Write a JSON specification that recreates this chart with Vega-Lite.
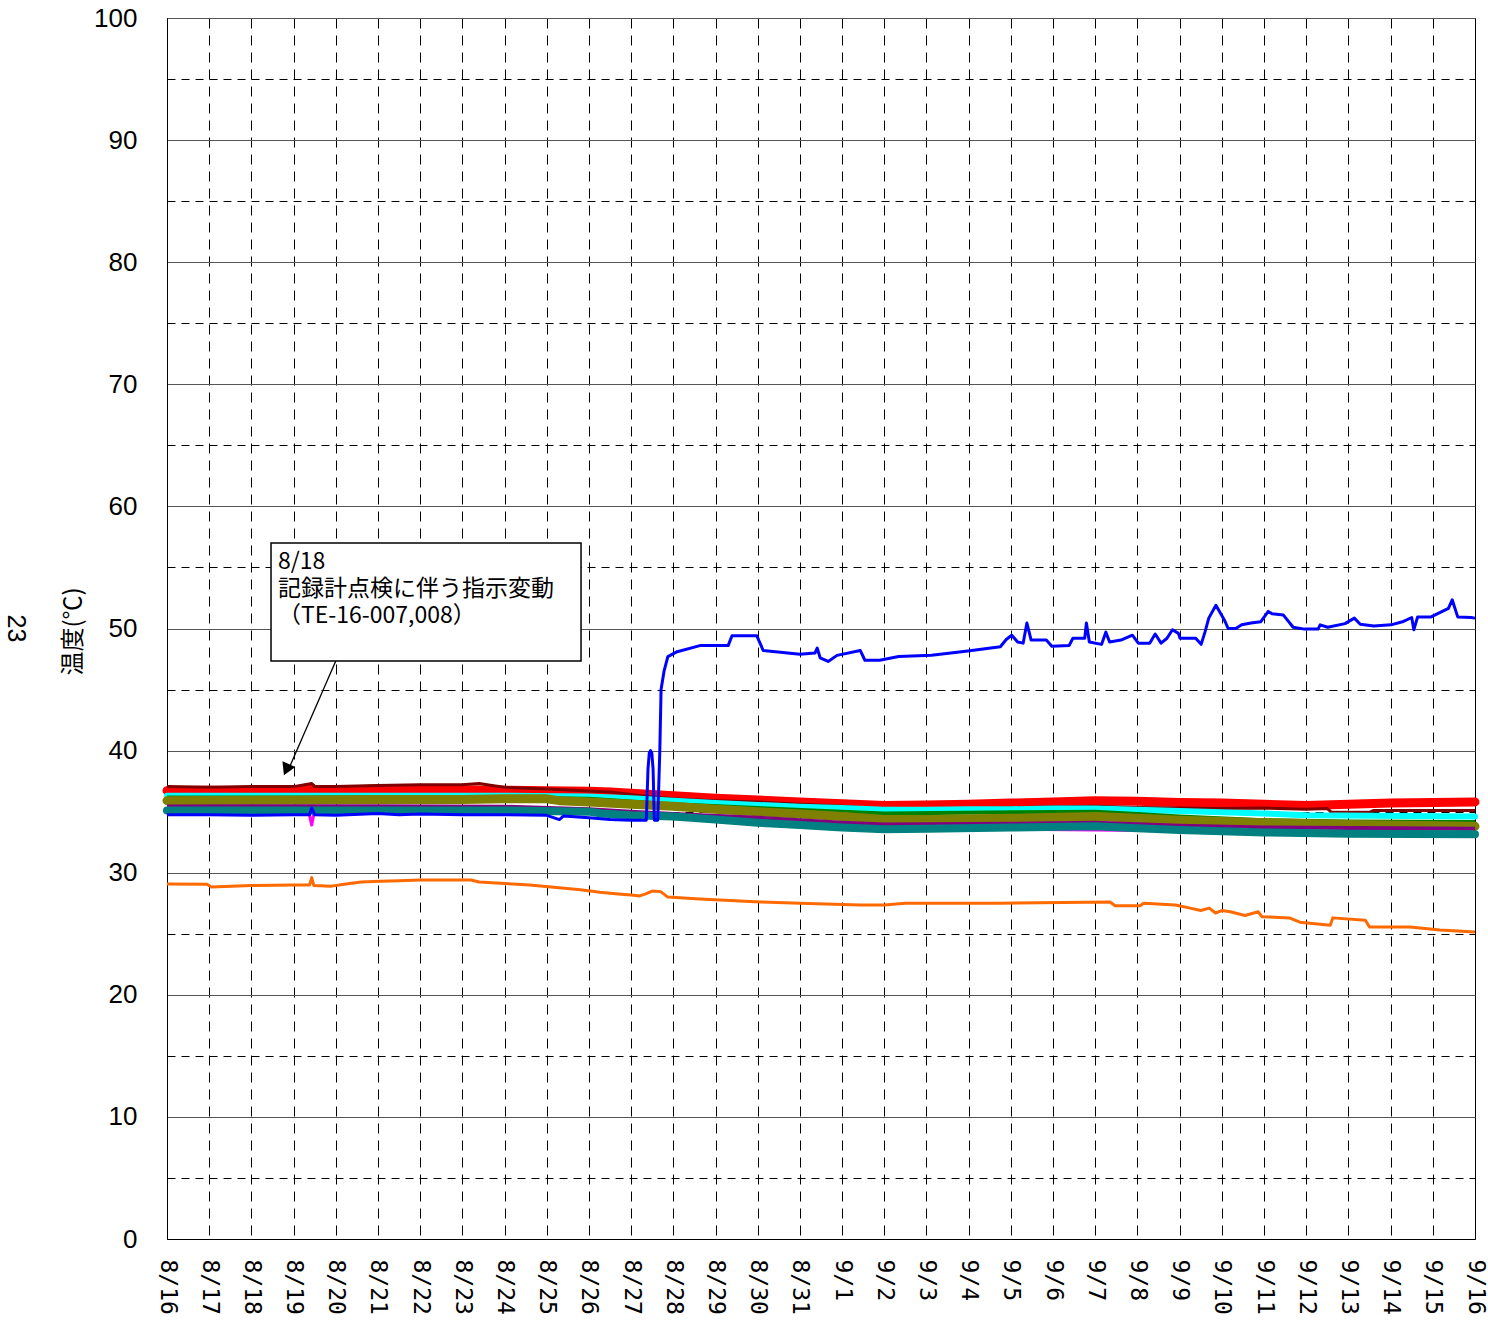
{
"$schema":"https://vega.github.io/schema/vega-lite/v6.json",
"width":1308,"height":1221,
"autosize":"none",
"padding":{"left":167,"top":18,"right":13,"bottom":85},
"background":"white",
"title":{"text":"23","orient":"left","angle":90,"fontSize":25,"font":"Liberation Sans","fontWeight":"normal","color":"#000","anchor":"middle","offset":8},
"config":{"view":{"stroke":"#000","strokeWidth":1}},
"data":{"values":[
{"s":"s1","t":"2011-08-16T00:00","v":36.72},{"s":"s1","t":"2011-08-17T00:00","v":36.75},{"s":"s1","t":"2011-08-18T00:00","v":36.72},{"s":"s1","t":"2011-08-19T00:00","v":36.75},{"s":"s1","t":"2011-08-19T10:19","v":36.95},{"s":"s1","t":"2011-08-19T12:00","v":36.75},{"s":"s1","t":"2011-08-20T00:00","v":36.75},{"s":"s1","t":"2011-08-21T00:00","v":36.85},{"s":"s1","t":"2011-08-22T00:00","v":36.85},{"s":"s1","t":"2011-08-23T00:00","v":36.8},{"s":"s1","t":"2011-08-24T00:00","v":36.75},{"s":"s1","t":"2011-08-25T00:00","v":36.72},{"s":"s1","t":"2011-08-26T00:00","v":36.68},{"s":"s1","t":"2011-08-26T12:00","v":36.6},{"s":"s1","t":"2011-08-27T00:00","v":36.5},{"s":"s1","t":"2011-08-27T12:00","v":36.4},{"s":"s1","t":"2011-08-28T00:00","v":36.3},{"s":"s1","t":"2011-08-29T00:00","v":36.1},{"s":"s1","t":"2011-08-30T00:00","v":35.95},{"s":"s1","t":"2011-08-31T00:00","v":35.8},{"s":"s1","t":"2011-09-01T00:00","v":35.65},{"s":"s1","t":"2011-09-02T00:00","v":35.5},{"s":"s1","t":"2011-09-03T00:00","v":35.55},{"s":"s1","t":"2011-09-04T00:00","v":35.6},{"s":"s1","t":"2011-09-05T00:00","v":35.7},{"s":"s1","t":"2011-09-06T00:00","v":35.8},{"s":"s1","t":"2011-09-07T00:00","v":35.9},{"s":"s1","t":"2011-09-08T00:00","v":35.85},{"s":"s1","t":"2011-09-09T00:00","v":35.75},{"s":"s1","t":"2011-09-10T00:00","v":35.7},{"s":"s1","t":"2011-09-11T00:00","v":35.6},{"s":"s1","t":"2011-09-12T00:00","v":35.5},{"s":"s1","t":"2011-09-13T00:00","v":35.6},{"s":"s1","t":"2011-09-14T00:00","v":35.7},{"s":"s1","t":"2011-09-15T00:00","v":35.75},{"s":"s1","t":"2011-09-16T00:00","v":35.8},

{"s":"s2","t":"2011-08-16T00:00","v":37.05},{"s":"s2","t":"2011-08-17T00:00","v":37.0},{"s":"s2","t":"2011-08-18T00:00","v":37.05},{"s":"s2","t":"2011-08-19T00:00","v":37.05},{"s":"s2","t":"2011-08-19T10:19","v":37.3},{"s":"s2","t":"2011-08-19T12:00","v":37.05},{"s":"s2","t":"2011-08-20T00:00","v":37.05},{"s":"s2","t":"2011-08-21T00:00","v":37.15},{"s":"s2","t":"2011-08-22T00:00","v":37.2},{"s":"s2","t":"2011-08-23T00:00","v":37.2},{"s":"s2","t":"2011-08-23T09:36","v":37.3},{"s":"s2","t":"2011-08-23T16:48","v":37.15},{"s":"s2","t":"2011-08-24T00:00","v":37.0},{"s":"s2","t":"2011-08-25T00:00","v":36.85},{"s":"s2","t":"2011-08-26T00:00","v":36.7},{"s":"s2","t":"2011-08-26T12:00","v":36.6},{"s":"s2","t":"2011-08-27T00:00","v":36.4},{"s":"s2","t":"2011-08-27T12:00","v":36.2},{"s":"s2","t":"2011-08-28T00:00","v":36.05},{"s":"s2","t":"2011-08-29T00:00","v":35.9},{"s":"s2","t":"2011-08-30T00:00","v":35.8},{"s":"s2","t":"2011-08-31T00:00","v":35.6},{"s":"s2","t":"2011-09-01T00:00","v":35.45},{"s":"s2","t":"2011-09-02T00:00","v":35.2},{"s":"s2","t":"2011-09-03T00:00","v":35.2},{"s":"s2","t":"2011-09-04T00:00","v":35.25},{"s":"s2","t":"2011-09-05T00:00","v":35.3},{"s":"s2","t":"2011-09-06T00:00","v":35.4},{"s":"s2","t":"2011-09-07T00:00","v":35.45},{"s":"s2","t":"2011-09-08T00:00","v":35.35},{"s":"s2","t":"2011-09-09T00:00","v":35.3},{"s":"s2","t":"2011-09-10T00:00","v":35.25},{"s":"s2","t":"2011-09-11T00:00","v":35.3},{"s":"s2","t":"2011-09-12T00:00","v":35.2},{"s":"s2","t":"2011-09-12T12:00","v":35.25},{"s":"s2","t":"2011-09-12T14:24","v":34.95},{"s":"s2","t":"2011-09-13T12:00","v":34.95},{"s":"s2","t":"2011-09-13T14:24","v":35.1},{"s":"s2","t":"2011-09-16T00:00","v":35.1},

{"s":"s3","t":"2011-08-16T00:00","v":36.3},{"s":"s3","t":"2011-08-21T00:00","v":36.3},{"s":"s3","t":"2011-08-24T00:00","v":36.3},{"s":"s3","t":"2011-08-26T00:00","v":36.25},{"s":"s3","t":"2011-08-27T00:00","v":36.1},{"s":"s3","t":"2011-08-28T00:00","v":35.9},{"s":"s3","t":"2011-08-29T00:00","v":35.7},{"s":"s3","t":"2011-08-30T00:00","v":35.55},{"s":"s3","t":"2011-08-31T00:00","v":35.4},{"s":"s3","t":"2011-09-01T00:00","v":35.3},{"s":"s3","t":"2011-09-02T00:00","v":35.15},{"s":"s3","t":"2011-09-03T00:00","v":35.15},{"s":"s3","t":"2011-09-04T00:00","v":35.2},{"s":"s3","t":"2011-09-05T00:00","v":35.2},{"s":"s3","t":"2011-09-06T00:00","v":35.25},{"s":"s3","t":"2011-09-07T00:00","v":35.25},{"s":"s3","t":"2011-09-08T00:00","v":35.15},{"s":"s3","t":"2011-09-09T00:00","v":35.05},{"s":"s3","t":"2011-09-11T00:00","v":34.85},{"s":"s3","t":"2011-09-12T00:00","v":34.7},{"s":"s3","t":"2011-09-16T00:00","v":34.6},

{"s":"s4","t":"2011-08-16T00:00","v":36.15},{"s":"s4","t":"2011-08-24T00:00","v":36.15},{"s":"s4","t":"2011-08-26T00:00","v":36.05},{"s":"s4","t":"2011-08-28T00:00","v":35.6},{"s":"s4","t":"2011-08-30T00:00","v":35.3},{"s":"s4","t":"2011-09-01T00:00","v":35.0},{"s":"s4","t":"2011-09-02T00:00","v":34.85},{"s":"s4","t":"2011-09-05T00:00","v":34.95},{"s":"s4","t":"2011-09-07T00:00","v":35.0},{"s":"s4","t":"2011-09-08T00:00","v":34.8},{"s":"s4","t":"2011-09-09T00:00","v":34.6},{"s":"s4","t":"2011-09-11T00:00","v":34.3},{"s":"s4","t":"2011-09-13T00:00","v":34.2},{"s":"s4","t":"2011-09-16T00:00","v":34.15},

{"s":"s5","t":"2011-08-16T00:00","v":35.9},{"s":"s5","t":"2011-08-19T00:00","v":35.95},{"s":"s5","t":"2011-08-21T00:00","v":36.0},{"s":"s5","t":"2011-08-23T00:00","v":36.0},{"s":"s5","t":"2011-08-24T00:00","v":36.05},{"s":"s5","t":"2011-08-25T00:00","v":36.05},{"s":"s5","t":"2011-08-25T07:12","v":35.9},{"s":"s5","t":"2011-08-26T00:00","v":35.8},{"s":"s5","t":"2011-08-27T00:00","v":35.6},{"s":"s5","t":"2011-08-28T00:00","v":35.45},{"s":"s5","t":"2011-08-29T00:00","v":35.2},{"s":"s5","t":"2011-08-30T00:00","v":35.0},{"s":"s5","t":"2011-08-31T00:00","v":34.8},{"s":"s5","t":"2011-09-01T00:00","v":34.6},{"s":"s5","t":"2011-09-02T00:00","v":34.35},{"s":"s5","t":"2011-09-03T00:00","v":34.35},{"s":"s5","t":"2011-09-05T00:00","v":34.45},{"s":"s5","t":"2011-09-07T00:00","v":34.6},{"s":"s5","t":"2011-09-08T00:00","v":34.45},{"s":"s5","t":"2011-09-09T00:00","v":34.3},{"s":"s5","t":"2011-09-11T00:00","v":34.1},{"s":"s5","t":"2011-09-13T00:00","v":33.95},{"s":"s5","t":"2011-09-16T00:00","v":33.8},

{"s":"s6","t":"2011-08-16T00:00","v":35.42},{"s":"s6","t":"2011-08-21T00:00","v":35.45},{"s":"s6","t":"2011-08-24T00:00","v":35.4},{"s":"s6","t":"2011-08-26T00:00","v":35.2},{"s":"s6","t":"2011-08-27T00:00","v":35.0},{"s":"s6","t":"2011-08-28T00:00","v":34.8},{"s":"s6","t":"2011-08-30T00:00","v":34.5},{"s":"s6","t":"2011-09-01T00:00","v":34.1},{"s":"s6","t":"2011-09-02T00:00","v":33.95},{"s":"s6","t":"2011-09-05T00:00","v":34.0},{"s":"s6","t":"2011-09-07T00:00","v":34.1},{"s":"s6","t":"2011-09-09T00:00","v":33.85},{"s":"s6","t":"2011-09-11T00:00","v":33.7},{"s":"s6","t":"2011-09-16T00:00","v":33.6},

{"s":"s8","t":"2011-08-16T00:00","v":35.15},{"s":"s8","t":"2011-08-19T08:24","v":35.15},{"s":"s8","t":"2011-08-19T10:19","v":33.9},{"s":"s8","t":"2011-08-19T12:00","v":35.15},{"s":"s8","t":"2011-08-24T00:00","v":35.15},{"s":"s8","t":"2011-08-27T00:00","v":34.7},{"s":"s8","t":"2011-09-01T00:00","v":33.7},{"s":"s8","t":"2011-09-16T00:00","v":33.2},

{"s":"s7","t":"2011-08-16T00:00","v":35.1},{"s":"s7","t":"2011-08-19T00:00","v":35.1},{"s":"s7","t":"2011-08-21T00:00","v":35.1},{"s":"s7","t":"2011-08-24T00:00","v":35.1},{"s":"s7","t":"2011-08-26T00:00","v":35.0},{"s":"s7","t":"2011-08-26T07:12","v":34.85},{"s":"s7","t":"2011-08-27T00:00","v":34.7},{"s":"s7","t":"2011-08-28T00:00","v":34.6},{"s":"s7","t":"2011-08-29T00:00","v":34.35},{"s":"s7","t":"2011-08-30T00:00","v":34.1},{"s":"s7","t":"2011-08-31T00:00","v":33.9},{"s":"s7","t":"2011-09-01T00:00","v":33.7},{"s":"s7","t":"2011-09-02T00:00","v":33.55},{"s":"s7","t":"2011-09-03T00:00","v":33.6},{"s":"s7","t":"2011-09-05T00:00","v":33.7},{"s":"s7","t":"2011-09-07T00:00","v":33.8},{"s":"s7","t":"2011-09-08T00:00","v":33.65},{"s":"s7","t":"2011-09-09T00:00","v":33.5},{"s":"s7","t":"2011-09-11T00:00","v":33.3},{"s":"s7","t":"2011-09-13T00:00","v":33.2},{"s":"s7","t":"2011-09-16T00:00","v":33.15},

{"s":"s9","t":"2011-08-16T00:00","v":34.75},{"s":"s9","t":"2011-08-17T00:00","v":34.75},{"s":"s9","t":"2011-08-18T00:00","v":34.7},{"s":"s9","t":"2011-08-19T00:00","v":34.75},{"s":"s9","t":"2011-08-19T09:07","v":34.75},{"s":"s9","t":"2011-08-19T10:19","v":35.3},{"s":"s9","t":"2011-08-19T12:00","v":34.75},{"s":"s9","t":"2011-08-20T00:00","v":34.7},{"s":"s9","t":"2011-08-21T00:00","v":34.85},{"s":"s9","t":"2011-08-21T12:00","v":34.75},{"s":"s9","t":"2011-08-22T00:00","v":34.8},{"s":"s9","t":"2011-08-23T00:00","v":34.75},{"s":"s9","t":"2011-08-24T00:00","v":34.75},{"s":"s9","t":"2011-08-25T00:00","v":34.7},{"s":"s9","t":"2011-08-25T07:12","v":34.35},{"s":"s9","t":"2011-08-25T09:36","v":34.65},{"s":"s9","t":"2011-08-26T00:00","v":34.5},{"s":"s9","t":"2011-08-26T12:00","v":34.35},{"s":"s9","t":"2011-08-27T00:00","v":34.3},{"s":"s9","t":"2011-08-27T08:38","v":34.3},{"s":"s9","t":"2011-08-27T09:36","v":38.5},{"s":"s9","t":"2011-08-27T10:19","v":39.8},{"s":"s9","t":"2011-08-27T11:02","v":40.0},{"s":"s9","t":"2011-08-27T11:46","v":39.8},{"s":"s9","t":"2011-08-27T12:29","v":38.5},{"s":"s9","t":"2011-08-27T13:12","v":34.3},{"s":"s9","t":"2011-08-27T15:07","v":34.3},{"s":"s9","t":"2011-08-27T16:19","v":40.0},{"s":"s9","t":"2011-08-27T17:02","v":45.0},{"s":"s9","t":"2011-08-27T18:43","v":46.5},{"s":"s9","t":"2011-08-27T20:53","v":47.7},{"s":"s9","t":"2011-08-28T02:10","v":48.1},{"s":"s9","t":"2011-08-28T15:07","v":48.6},{"s":"s9","t":"2011-08-29T07:12","v":48.6},{"s":"s9","t":"2011-08-29T09:22","v":49.4},{"s":"s9","t":"2011-08-29T23:31","v":49.4},{"s":"s9","t":"2011-08-30T03:07","v":48.2},{"s":"s9","t":"2011-08-31T00:00","v":47.9},{"s":"s9","t":"2011-08-31T08:38","v":48.0},{"s":"s9","t":"2011-08-31T09:50","v":48.4},{"s":"s9","t":"2011-08-31T11:31","v":47.6},{"s":"s9","t":"2011-08-31T16:05","v":47.3},{"s":"s9","t":"2011-08-31T21:07","v":47.8},{"s":"s9","t":"2011-09-01T10:19","v":48.2},{"s":"s9","t":"2011-09-01T12:58","v":47.4},{"s":"s9","t":"2011-09-01T21:22","v":47.4},{"s":"s9","t":"2011-09-02T08:10","v":47.7},{"s":"s9","t":"2011-09-03T02:53","v":47.8},{"s":"s9","t":"2011-09-03T23:31","v":48.15},{"s":"s9","t":"2011-09-04T18:00","v":48.5},{"s":"s9","t":"2011-09-04T21:22","v":49.1},{"s":"s9","t":"2011-09-05T00:29","v":49.45},{"s":"s9","t":"2011-09-05T03:50","v":48.9},{"s":"s9","t":"2011-09-05T06:58","v":48.8},{"s":"s9","t":"2011-09-05T09:07","v":50.45},{"s":"s9","t":"2011-09-05T11:31","v":49.05},{"s":"s9","t":"2011-09-05T20:10","v":49.05},{"s":"s9","t":"2011-09-05T23:17","v":48.55},{"s":"s9","t":"2011-09-06T09:07","v":48.6},{"s":"s9","t":"2011-09-06T11:17","v":49.2},{"s":"s9","t":"2011-09-06T18:00","v":49.2},{"s":"s9","t":"2011-09-06T18:58","v":50.45},{"s":"s9","t":"2011-09-06T20:38","v":48.9},{"s":"s9","t":"2011-09-07T03:36","v":48.7},{"s":"s9","t":"2011-09-07T06:00","v":49.7},{"s":"s9","t":"2011-09-07T08:10","v":48.9},{"s":"s9","t":"2011-09-07T14:38","v":49.05},{"s":"s9","t":"2011-09-07T21:07","v":49.45},{"s":"s9","t":"2011-09-08T00:29","v":48.8},{"s":"s9","t":"2011-09-08T06:58","v":48.8},{"s":"s9","t":"2011-09-08T10:05","v":49.55},{"s":"s9","t":"2011-09-08T13:26","v":48.8},{"s":"s9","t":"2011-09-08T16:48","v":49.2},{"s":"s9","t":"2011-09-08T19:55","v":49.9},{"s":"s9","t":"2011-09-08T23:17","v":49.6},{"s":"s9","t":"2011-09-09T00:14","v":49.2},{"s":"s9","t":"2011-09-09T09:07","v":49.2},{"s":"s9","t":"2011-09-09T12:14","v":48.7},{"s":"s9","t":"2011-09-09T14:24","v":49.7},{"s":"s9","t":"2011-09-09T16:34","v":50.85},{"s":"s9","t":"2011-09-09T20:38","v":51.9},{"s":"s9","t":"2011-09-10T01:26","v":50.7},{"s":"s9","t":"2011-09-10T03:36","v":50.0},{"s":"s9","t":"2011-09-10T07:55","v":50.0},{"s":"s9","t":"2011-09-10T11:17","v":50.3},{"s":"s9","t":"2011-09-10T16:34","v":50.45},{"s":"s9","t":"2011-09-10T22:05","v":50.55},{"s":"s9","t":"2011-09-11T02:24","v":51.4},{"s":"s9","t":"2011-09-11T04:34","v":51.2},{"s":"s9","t":"2011-09-11T11:02","v":51.1},{"s":"s9","t":"2011-09-11T16:34","v":50.1},{"s":"s9","t":"2011-09-11T23:02","v":49.95},{"s":"s9","t":"2011-09-12T06:43","v":49.95},{"s":"s9","t":"2011-09-12T07:55","v":50.3},{"s":"s9","t":"2011-09-12T12:14","v":50.1},{"s":"s9","t":"2011-09-12T22:05","v":50.4},{"s":"s9","t":"2011-09-13T03:22","v":50.85},{"s":"s9","t":"2011-09-13T06:43","v":50.35},{"s":"s9","t":"2011-09-13T14:24","v":50.2},{"s":"s9","t":"2011-09-14T00:14","v":50.3},{"s":"s9","t":"2011-09-14T06:43","v":50.55},{"s":"s9","t":"2011-09-14T12:00","v":50.9},{"s":"s9","t":"2011-09-14T13:12","v":49.9},{"s":"s9","t":"2011-09-14T15:22","v":50.95},{"s":"s9","t":"2011-09-14T23:02","v":50.95},{"s":"s9","t":"2011-09-15T08:53","v":51.65},{"s":"s9","t":"2011-09-15T11:02","v":52.35},{"s":"s9","t":"2011-09-15T14:10","v":50.95},{"s":"s9","t":"2011-09-15T21:50","v":50.9},{"s":"s9","t":"2011-09-16T00:00","v":50.85},

{"s":"s10","t":"2011-08-16T00:00","v":29.07},{"s":"s10","t":"2011-08-16T22:48","v":29.05},{"s":"s10","t":"2011-08-17T01:12","v":28.83},{"s":"s10","t":"2011-08-18T00:00","v":28.95},{"s":"s10","t":"2011-08-19T00:00","v":29.0},{"s":"s10","t":"2011-08-19T09:07","v":29.0},{"s":"s10","t":"2011-08-19T10:19","v":29.6},{"s":"s10","t":"2011-08-19T11:31","v":28.95},{"s":"s10","t":"2011-08-19T21:36","v":28.9},{"s":"s10","t":"2011-08-20T04:48","v":29.05},{"s":"s10","t":"2011-08-20T14:24","v":29.24},{"s":"s10","t":"2011-08-21T01:12","v":29.3},{"s":"s10","t":"2011-08-21T12:00","v":29.35},{"s":"s10","t":"2011-08-22T00:00","v":29.4},{"s":"s10","t":"2011-08-23T04:48","v":29.4},{"s":"s10","t":"2011-08-23T09:36","v":29.24},{"s":"s10","t":"2011-08-23T19:12","v":29.16},{"s":"s10","t":"2011-08-24T14:24","v":29.0},{"s":"s10","t":"2011-08-25T02:24","v":28.83},{"s":"s10","t":"2011-08-25T19:12","v":28.6},{"s":"s10","t":"2011-08-26T06:14","v":28.4},{"s":"s10","t":"2011-08-26T16:48","v":28.25},{"s":"s10","t":"2011-08-27T00:00","v":28.17},{"s":"s10","t":"2011-08-27T04:48","v":28.1},{"s":"s10","t":"2011-08-27T07:55","v":28.25},{"s":"s10","t":"2011-08-27T12:00","v":28.5},{"s":"s10","t":"2011-08-27T16:48","v":28.45},{"s":"s10","t":"2011-08-27T20:53","v":28.0},{"s":"s10","t":"2011-08-28T15:07","v":27.85},{"s":"s10","t":"2011-08-30T01:26","v":27.6},{"s":"s10","t":"2011-08-31T00:00","v":27.5},{"s":"s10","t":"2011-09-01T10:19","v":27.35},{"s":"s10","t":"2011-09-02T00:00","v":27.35},{"s":"s10","t":"2011-09-02T12:00","v":27.5},{"s":"s10","t":"2011-09-04T17:46","v":27.5},{"s":"s10","t":"2011-09-07T08:24","v":27.6},{"s":"s10","t":"2011-09-07T11:17","v":27.3},{"s":"s10","t":"2011-09-08T01:26","v":27.3},{"s":"s10","t":"2011-09-08T03:36","v":27.5},{"s":"s10","t":"2011-09-08T21:36","v":27.35},{"s":"s10","t":"2011-09-09T06:00","v":27.1},{"s":"s10","t":"2011-09-09T12:00","v":26.9},{"s":"s10","t":"2011-09-09T16:48","v":27.1},{"s":"s10","t":"2011-09-09T20:24","v":26.7},{"s":"s10","t":"2011-09-10T00:00","v":26.9},{"s":"s10","t":"2011-09-10T04:48","v":26.8},{"s":"s10","t":"2011-09-10T13:12","v":26.5},{"s":"s10","t":"2011-09-10T20:38","v":26.8},{"s":"s10","t":"2011-09-10T22:48","v":26.4},{"s":"s10","t":"2011-09-11T14:24","v":26.3},{"s":"s10","t":"2011-09-11T20:24","v":25.95},{"s":"s10","t":"2011-09-12T13:41","v":25.7},{"s":"s10","t":"2011-09-12T15:07","v":26.3},{"s":"s10","t":"2011-09-13T09:36","v":26.1},{"s":"s10","t":"2011-09-13T12:00","v":25.55},{"s":"s10","t":"2011-09-14T11:02","v":25.55},{"s":"s10","t":"2011-09-15T04:05","v":25.3},{"s":"s10","t":"2011-09-16T00:00","v":25.15}
]},
"layer":[
{"transform":[{"filter":"datum.s==='s1'"}],
 "mark":{"type":"line","color":"#FF0000","strokeWidth":9,"strokeCap":"round","strokeJoin":"round"},
 "encoding":{
  "x":{"field":"t","type":"temporal",
   "scale":{"domain":[{"year":2011,"month":8,"date":16},{"year":2011,"month":9,"date":16}]},
   "axis":{"title":null,"format":"%-m/%-d","tickCount":{"interval":"day","step":1},"labelAngle":90,"labelFlush":false,"labelOverlap":false,"labelFont":"DejaVu Sans Mono","labelFontSize":23,"labelColor":"#000","labelPadding":20,"ticks":false,"tickSize":0,"domainColor":"#000","domainWidth":1,"grid":true,"gridColor":"#000","gridDash":[10,7],"gridWidth":1,"gridOpacity":1}},
  "y":{"field":"v","type":"quantitative",
   "scale":{"domain":[0,100],"nice":false,"zero":true},
   "axis":{"values":[0,5,10,15,20,25,30,35,40,45,50,55,60,65,70,75,80,85,90,95,100],"labelExpr":"datum.value % 10 === 0 ? datum.label : ''","labelFont":"Liberation Sans","labelFontSize":26,"labelColor":"#000","labelPadding":30,"ticks":false,"tickSize":0,"domainColor":"#000","domainWidth":1,"grid":true,"gridOpacity":1,"gridWidth":1,
    "gridColor":{"condition":{"test":"datum.value % 10 === 5","value":"#000"},"value":"#555"},
    "gridDash":{"condition":{"test":"datum.value % 10 === 5","value":[8,6]},"value":[]},
    "title":"温度(℃)","titleFont":"Noto Sans CJK JP","titleFontSize":24,"titleFontWeight":"normal","titleColor":"#000","titleX":-82,"titleY":613}}}},
{"transform":[{"filter":"datum.s==='s2'"}],"mark":{"type":"line","color":"#800000","strokeWidth":3,"strokeJoin":"round"},"encoding":{"x":{"field":"t","type":"temporal"},"y":{"field":"v","type":"quantitative"}}},
{"transform":[{"filter":"datum.s==='s3'"}],"mark":{"type":"line","color":"#00FFFF","strokeWidth":6,"strokeCap":"round","strokeJoin":"round"},"encoding":{"x":{"field":"t","type":"temporal"},"y":{"field":"v","type":"quantitative"}}},
{"transform":[{"filter":"datum.s==='s4'"}],"mark":{"type":"line","color":"#008000","strokeWidth":4,"strokeJoin":"round"},"encoding":{"x":{"field":"t","type":"temporal"},"y":{"field":"v","type":"quantitative"}}},
{"transform":[{"filter":"datum.s==='s5'"}],"mark":{"type":"line","color":"#808000","strokeWidth":9,"strokeCap":"round","strokeJoin":"round"},"encoding":{"x":{"field":"t","type":"temporal"},"y":{"field":"v","type":"quantitative"}}},
{"transform":[{"filter":"datum.s==='s6'"}],"mark":{"type":"line","color":"#800080","strokeWidth":4,"strokeJoin":"round"},"encoding":{"x":{"field":"t","type":"temporal"},"y":{"field":"v","type":"quantitative"}}},
{"transform":[{"filter":"datum.s==='s8'"}],"mark":{"type":"line","color":"#FF00FF","strokeWidth":3,"strokeJoin":"round"},"encoding":{"x":{"field":"t","type":"temporal"},"y":{"field":"v","type":"quantitative"}}},
{"transform":[{"filter":"datum.s==='s7'"}],"mark":{"type":"line","color":"#008080","strokeWidth":8,"strokeCap":"round","strokeJoin":"round"},"encoding":{"x":{"field":"t","type":"temporal"},"y":{"field":"v","type":"quantitative"}}},
{"transform":[{"filter":"datum.s==='s9'"}],"mark":{"type":"line","color":"#0000FF","strokeWidth":3,"strokeJoin":"round"},"encoding":{"x":{"field":"t","type":"temporal"},"y":{"field":"v","type":"quantitative"}}},
{"transform":[{"filter":"datum.s==='s10'"}],"mark":{"type":"line","color":"#FF6A00","strokeWidth":3,"strokeJoin":"round"},"encoding":{"x":{"field":"t","type":"temporal"},"y":{"field":"v","type":"quantitative"}}},
{"data":{"values":[{}]},"mark":{"type":"rule","color":"#000","strokeWidth":1.3},
 "encoding":{"x":{"datum":{"year":2011,"month":8,"date":20,"hours":0,"minutes":0},"type":"temporal"},"x2":{"datum":{"year":2011,"month":8,"date":18,"hours":21,"minutes":58}},"y":{"datum":47.34,"type":"quantitative"},"y2":{"datum":38.74}}},
{"data":{"values":[{}]},"mark":{"type":"point","shape":"triangle-up","filled":true,"color":"#000","opacity":1,"size":200,"angle":204},
 "encoding":{"x":{"datum":{"year":2011,"month":8,"date":18,"hours":19,"minutes":55},"type":"temporal"},"y":{"datum":38.44,"type":"quantitative"}}},
{"data":{"values":[{}]},"mark":{"type":"rect","fill":"#FFFFFF","stroke":"#000","strokeWidth":1.5},
 "encoding":{"x":{"datum":{"year":2011,"month":8,"date":18,"hours":11,"minutes":10},"type":"temporal"},"x2":{"datum":{"year":2011,"month":8,"date":25,"hours":19,"minutes":30}},"y":{"datum":57.0,"type":"quantitative"},"y2":{"datum":47.34}}},
{"data":{"values":[{}]},"mark":{"type":"text","text":["8/18","記録計点検に伴う指示変動","（TE-16-007,008）"],"align":"left","baseline":"top","font":"Noto Sans CJK JP","fontSize":23,"lineHeight":27,"color":"#000"},
 "encoding":{"x":{"datum":{"year":2011,"month":8,"date":18,"hours":15,"minutes":7},"type":"temporal"},"y":{"datum":56.35,"type":"quantitative"}}}
]
}
